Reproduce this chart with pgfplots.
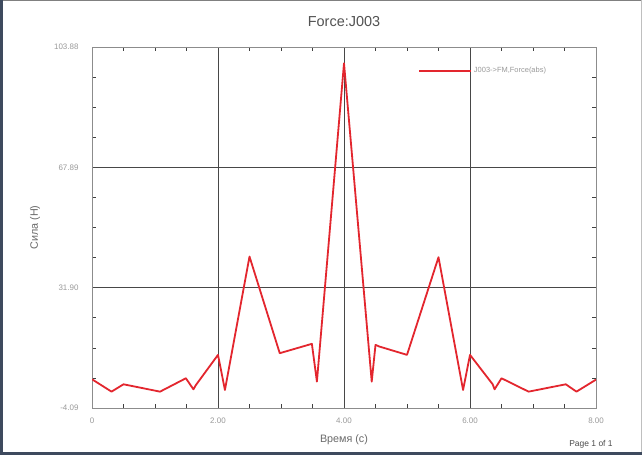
\documentclass[border=0pt]{standalone}
\usepackage{fontspec}
\setmainfont{Liberation Sans}
\usepackage{pgfplots}
\pgfplotsset{compat=1.18}
\definecolor{frameblue}{HTML}{3E4A5E}
\definecolor{linered}{HTML}{E3262E}
\definecolor{ticktext}{HTML}{9A9A9A}
\definecolor{labeltext}{HTML}{6A6A6A}
\begin{document}
\begin{tikzpicture}[x=1bp,y=1bp]
\useasboundingbox (0,0) rectangle (642,455);
\fill[white] (0,0) rectangle (642,455);
\begin{axis}[
  at={(92bp,47bp)}, anchor=south west,
  scale only axis, width=504bp, height=361bp,
  xmin=0, xmax=8, ymin=-4.09, ymax=103.88,
  xtick={0,2,4,6,8}, xticklabels={0,2.00,4.00,6.00,8.00},
  ytick={-4.09,31.90,67.89,103.88}, yticklabels={-4.09,31.90,67.89,103.88},
  minor x tick num=3, minor y tick num=3,
  grid=major,
  major grid style={color=black!72, line width=0.8bp},
  axis line style={color=black!45, line width=0.8bp},
  tick style={color=black!75, line width=0.6bp},
  major tick length=0bp, minor tick length=4bp,
  tick align=inside,
  /pgf/number format/assume math mode=true,
  ticklabel style={font=\fontsize{8}{9}\selectfont, text=ticktext},
  xticklabel style={yshift=-6bp},
  yticklabel style={xshift=-10bp},
  xlabel={Время (с)}, ylabel={Сила (Н)},
  xlabel style={at={(axis description cs:0.5,-0.0886)}, anchor=center, font=\fontsize{10.8}{12}\selectfont, text=labeltext},
  ylabel style={at={(axis description cs:-0.1131,0.5)}, anchor=center, rotate=0, font=\fontsize{10.8}{12}\selectfont, text=labeltext},
  title={Force:J003},
  title style={at={(axis description cs:0.5,1.0526)}, anchor=center, font=\fontsize{14.5}{16}\selectfont, text=black!68},
  legend style={at={(axis description cs:0.6468,0.9335)}, anchor=west, draw=none, fill=none, inner sep=0pt,
    font=\fontsize{7.5}{8}\selectfont, text=ticktext},
  legend image code/.code={\draw[#1] (0bp,0bp) -- (52bp,0bp);},
  clip=true,
]
\addplot[color=linered, line width=1.8bp, line join=round] coordinates {
(0,4.5) (0.31,0.8) (0.5,3.0) (1.08,0.8) (1.49,4.8) (1.61,1.5) (1.65,2.8)
(2.0,11.8) (2.11,1.3) (2.5,41.2) (2.98,12.3) (3.49,15.1) (3.57,3.8)
(4.0,99.0) (4.44,3.8) (4.5,14.8) (4.56,14.3) (5.0,11.8) (5.5,41.0)
(5.89,1.3) (6.0,11.8) (6.36,3.0) (6.39,1.5) (6.5,4.8) (6.93,0.8)
(7.52,3.0) (7.69,0.8) (8.0,4.4)
};
\addlegendentry{J003->FM,Force(abs)}
\end{axis}
\node[font=\fontsize{8.5}{9}\selectfont, text=black!70] at (591,11) {Page 1 of 1};
\draw[black!50, line width=1bp] (0,454.5) -- (642,454.5);
\draw[black!25, line width=0.6bp] (641.7,0) -- (641.7,455);
\fill[frameblue] (0,0) rectangle (3,455);
\fill[frameblue] (0,0) rectangle (642,2.5);
\end{tikzpicture}
\end{document}
